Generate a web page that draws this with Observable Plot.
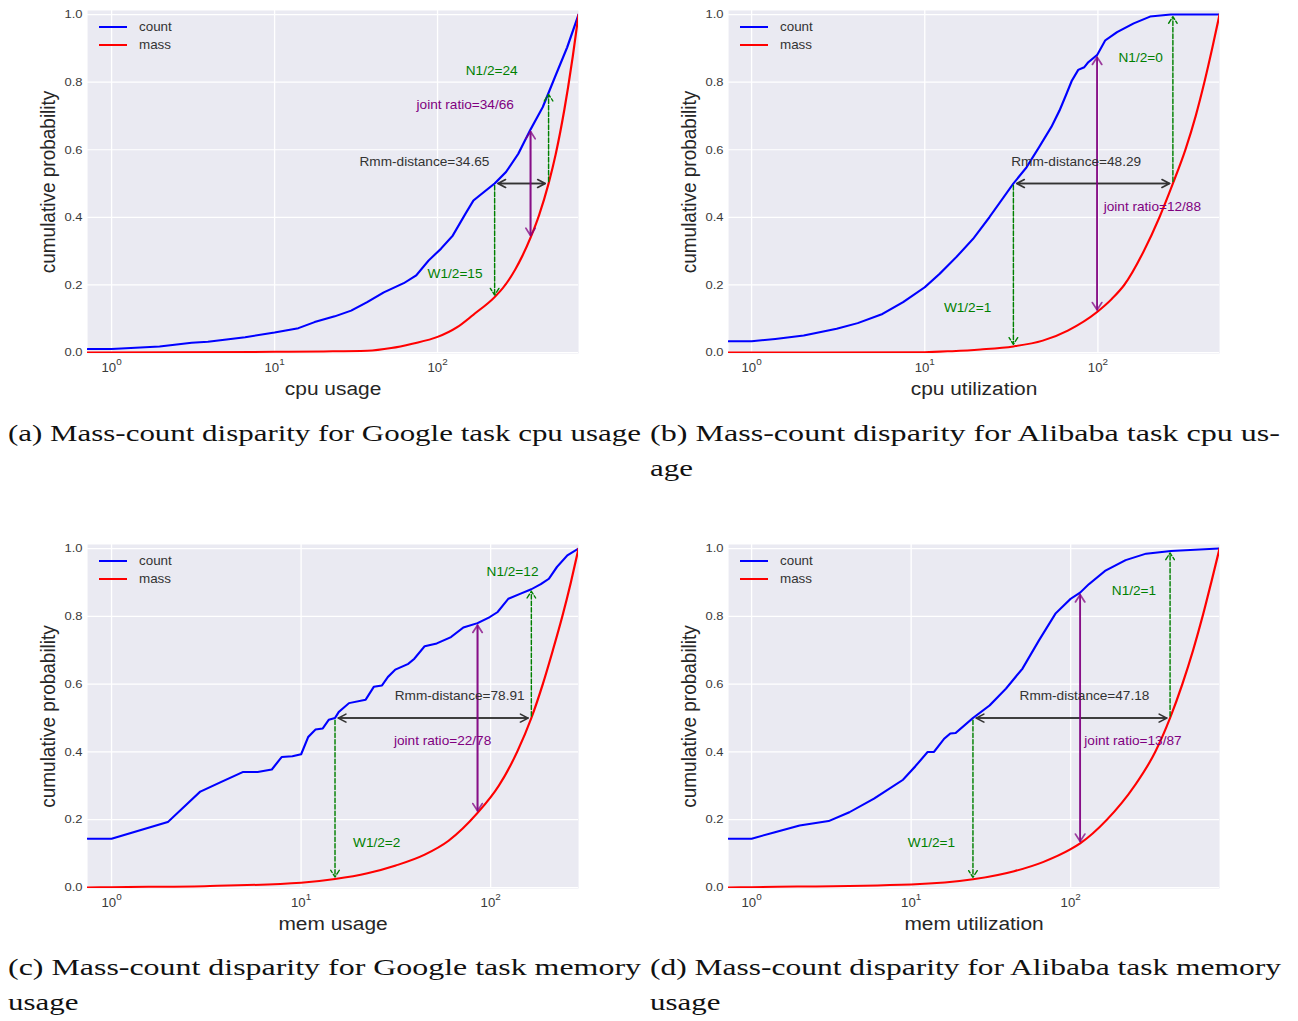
<!DOCTYPE html>
<html>
<head>
<meta charset="utf-8">
<script src="https://cdn.jsdelivr.net/npm/d3@7"></script>
<script src="https://cdn.jsdelivr.net/npm/@observablehq/plot@0.6"></script>
<style>
  html, body { margin: 0; padding: 0; background: #fff; }
  #page { position: relative; width: 1298px; height: 1021px; overflow: hidden; background: #fff; }
</style>
</head>
<body>
<div id="page"></div>
<script>
// ---------------------------------------------------------------------------
// Cumulative distributions (count CDF and mass CDF) for the four workloads
// ---------------------------------------------------------------------------
const googleCpuCountX = [0.712, 1, 1.97, 3.1, 3.9, 6.6, 10, 14, 17.6, 23.4, 29.5, 37, 46.8, 62, 74, 88, 105, 124, 148, 166, 186, 224, 263, 313, 372, 442, 525, 624, 733];
const googleCpuCountP = [0.01, 0.01, 0.018, 0.029, 0.032, 0.045, 0.059, 0.072, 0.09, 0.107, 0.124, 0.149, 0.178, 0.205, 0.228, 0.272, 0.307, 0.346, 0.41, 0.45, 0.469, 0.5, 0.534, 0.588, 0.66, 0.726, 0.815, 0.903, 1.0];
const googleCpuMassX = [0.712, 10, 20, 37, 52, 70, 100, 132, 166, 224, 251, 300, 330, 372, 420, 480, 531, 600, 631, 676, 733];
const googleCpuMassP = [0, 0.002, 0.003, 0.005, 0.013, 0.026, 0.046, 0.075, 0.112, 0.164, 0.19, 0.246, 0.284, 0.34, 0.407, 0.5, 0.587, 0.719, 0.782, 0.877, 1.0];

const alibabaCpuCountX = [0.736, 1, 1.37, 2.0, 3.1, 4.1, 5.7, 7.5, 10, 12.2, 15.2, 19, 23.6, 28.6, 32.5, 38.7, 45.7, 53.8, 60, 65.2, 70.8, 76.9, 83.4, 88, 98.9, 110, 129, 161, 200, 264, 504];
const alibabaCpuCountP = [0.033, 0.033, 0.04, 0.05, 0.07, 0.087, 0.114, 0.149, 0.193, 0.233, 0.282, 0.336, 0.40, 0.46, 0.50, 0.548, 0.607, 0.667, 0.716, 0.76, 0.805, 0.836, 0.844, 0.859, 0.88, 0.923, 0.948, 0.974, 0.994, 1.0, 1.0];
const alibabaCpuMassX = [0.736, 10, 14.4, 21, 32.5, 48, 67, 98.9, 120, 142, 184, 226.5, 271, 320, 367, 412, 457, 504];
const alibabaCpuMassP = [0, 0.001, 0.004, 0.009, 0.018, 0.035, 0.065, 0.12, 0.158, 0.2, 0.3, 0.4, 0.5, 0.6, 0.7, 0.8, 0.9, 1.0];

const googleMemCountX = [0.747, 1, 1.98, 2.94, 3.77, 4.95, 5.9, 7.0, 7.9, 9.0, 10, 10.9, 11.9, 13, 14, 15.1, 15.8, 17.9, 21.9, 24.2, 26.7, 28.7, 31.4, 36.8, 39.6, 44.9, 52, 61.8, 71.8, 85.3, 99, 109, 124, 144, 164, 184, 203, 224, 254, 291];
const googleMemCountP = [0.144, 0.144, 0.193, 0.283, 0.311, 0.341, 0.341, 0.348, 0.385, 0.387, 0.393, 0.444, 0.466, 0.469, 0.495, 0.5, 0.518, 0.544, 0.554, 0.592, 0.596, 0.621, 0.643, 0.66, 0.675, 0.712, 0.72, 0.739, 0.767, 0.78, 0.798, 0.813, 0.852, 0.867, 0.88, 0.895, 0.911, 0.946, 0.98, 1.0];
const googleMemMassX = [0.747, 1, 3.1, 10, 15.1, 22.4, 31.6, 44.9, 60, 85.3, 110.4, 138, 164, 188.5, 213, 239, 265, 291];
const googleMemMassP = [0, 0.001, 0.004, 0.014, 0.025, 0.042, 0.065, 0.097, 0.138, 0.22, 0.3, 0.4, 0.5, 0.6, 0.7, 0.8, 0.9, 1.0];

const alibabaMemCountX = [0.717, 1, 1.4, 2.0, 3.04, 4.1, 5.85, 8.9, 10.6, 12.7, 13.9, 16.1, 17.6, 19, 24.4, 31, 39.3, 49.9, 63.2, 80.2, 100, 114.6, 130, 164, 221, 297, 425, 857];
const alibabaMemCountP = [0.144, 0.144, 0.163, 0.183, 0.196, 0.222, 0.262, 0.318, 0.357, 0.40, 0.40, 0.439, 0.454, 0.456, 0.5, 0.537, 0.587, 0.646, 0.729, 0.808, 0.852, 0.87, 0.895, 0.934, 0.966, 0.985, 0.993, 1.0];
const alibabaMemMassX = [0.717, 1, 10, 24.4, 44.2, 67, 100, 114.6, 168.8, 251.5, 338.8, 419.6, 501, 585, 671, 760, 857];
const alibabaMemMassP = [0, 0.001, 0.009, 0.024, 0.048, 0.075, 0.113, 0.13, 0.2, 0.3, 0.4, 0.5, 0.6, 0.7, 0.8, 0.9, 1.0];

// Panel order: (a) Google cpu, (b) Alibaba cpu, (c) Google mem, (d) Alibaba mem
const countXs = [googleCpuCountX, alibabaCpuCountX, googleMemCountX, alibabaMemCountX];
const countPs = [googleCpuCountP, alibabaCpuCountP, googleMemCountP, alibabaMemCountP];
const massXs = [googleCpuMassX, alibabaCpuMassX, googleMemMassX, alibabaMemMassX];
const massPs = [googleCpuMassP, alibabaCpuMassP, googleMemMassP, alibabaMemMassP];

const seriesNames = ["count", "mass"];
const xAxisLabels = ["cpu usage", "cpu utilization", "mem usage", "mem utilization"];
const yAxisLabel = "cumulative probability";
const xExtents = [[0.712, 733], [0.736, 504], [0.747, 291], [0.717, 857]];
const xTicks = [1, 10, 100];
const yTicks = [0, 0.2, 0.4, 0.6, 0.8, 1.0];

// Disparity metrics: W1/2 (count median), N1/2 (mass median), joint ratio point
const halfCountX = [224, 32.5, 15.1, 24.4];
const massAtHalfCount = [0.164, 0.018, 0.025, 0.024];
const halfMassX = [480, 271, 164, 419.6];
const countAtHalfMass = [0.77, 1.0, 0.88, 0.993];
const jointX = [372, 98.9, 85.3, 114.6];
const jointCount = [0.66, 0.88, 0.78, 0.87];
const jointMass = [0.34, 0.12, 0.22, 0.13];

const wLabels = ["W1/2=15", "W1/2=1", "W1/2=2", "W1/2=1"];
const nLabels = ["N1/2=24", "N1/2=0", "N1/2=12", "N1/2=1"];
const rmmLabels = ["Rmm-distance=34.65", "Rmm-distance=48.29", "Rmm-distance=78.91", "Rmm-distance=47.18"];
const jointLabels = ["joint ratio=34/66", "joint ratio=12/88", "joint ratio=22/78", "joint ratio=13/87"];

const captions = [
  ["(a) Mass-count disparity for Google task cpu usage"],
  ["(b) Mass-count disparity for Alibaba task cpu us-", "age"],
  ["(c) Mass-count disparity for Google task memory", "usage"],
  ["(d) Mass-count disparity for Alibaba task memory", "usage"]
];

// ---------------------------------------------------------------------------
// Layout
// ---------------------------------------------------------------------------
// where each annotation text starts (data x of left edge, data y of baseline)
const notePlacement = {
  n:     [[149, 0.82],  [131.5, 0.861], [95.2, 0.919], [181, 0.862]],
  joint: [[74.3, 0.722], [108, 0.418],  [30.9, 0.419], [121.7, 0.419]],
  rmm:   [[33.2, 0.553], [31.6, 0.551], [31.2, 0.552], [47.8, 0.552]],
  w:     [[86.9, 0.219], [12.9, 0.119], [18.8, 0.119], [9.53, 0.119]]
};

const FONT = "'Liberation Sans', Arial, Helvetica, sans-serif";
const S = 1.1;               // the panels are drawn slightly widened
const PANEL_W = 645, PANEL_H = 405;
const panelBoxes = [
  {left: 0,   top: 0,   plotLeft: 87, plotRight: 578, plotBottom: 353},
  {left: 649, top: 0,   plotLeft: 79, plotRight: 570, plotBottom: 353},
  {left: 0,   top: 534, plotLeft: 87, plotRight: 578, plotBottom: 354},
  {left: 649, top: 534, plotLeft: 79, plotRight: 570, plotBottom: 354}
];
const seriesColors = ["#0000ff", "#ff0000"];
const page = document.getElementById("page");

// Dashed shaft, solid head for the W1/2 and N1/2 arrows
function dashShafts(svg) {
  d3.select(svg).selectAll('g[aria-label="half arrow"] path, g[stroke="green"] path').each(function () {
    const d = this.getAttribute("d");
    if (!d) return;
    const shaft = d.split("M").filter(Boolean)[0];
    const nums = (shaft.match(/-?\d*\.?\d+(?:e[-+]?\d+)?/gi) || []).map(Number);
    const n = nums.length;
    if (n < 4) return;
    const L = Math.hypot(nums[n - 2] - nums[0], nums[n - 1] - nums[1]);
    const dash = 4.5, gap = 2, arr = [];
    let acc = 0;
    while (acc + dash + gap <= L) { arr.push(dash, gap); acc += dash + gap; }
    const rem = L - acc;
    if (rem > dash) arr.push(dash, rem - dash); else arr.push(rem, 0);
    arr.push(200, 0);
    this.setAttribute("stroke-dasharray", arr.map(v => v.toFixed(2)).join(" "));
    this.style.strokeDasharray = arr.map(v => v.toFixed(2) + "px").join(" ");
  });
}

function drawPanel(i) {
  const box = panelBoxes[i];
  const W = PANEL_W / S;
  const mL = box.plotLeft / S;
  const mR = (PANEL_W - box.plotRight) / S;
  const mT = 10;
  const mB = PANEL_H - box.plotBottom;

  const count = countXs[i].map((x, j) => ({x, p: countPs[i][j]}));
  const mass = massXs[i].map((x, j) => ({x, p: massPs[i][j]}));

  const halfArrows = [
    {x1: halfCountX[i], y1: 0.5, x2: halfCountX[i], y2: massAtHalfCount[i]},
    {x1: halfMassX[i], y1: 0.5, x2: halfMassX[i], y2: countAtHalfMass[i]}
  ];
  const rmm = [{a: halfCountX[i], b: halfMassX[i]}];
  const joint = [{x: jointX[i], c: jointCount[i], m: jointMass[i]}];

  const note = (key, text) => [{x: notePlacement[key][i][0], y: notePlacement[key][i][1], text}];
  const noteStyle = {x: "x", y: "y", text: "text", textAnchor: "start", lineAnchor: "bottom", fontSize: 12.4};

  const svg = Plot.plot({
    width: W,
    height: PANEL_H,
    marginLeft: mL, marginRight: mR, marginTop: mT, marginBottom: mB,
    style: {background: "transparent", fontFamily: FONT, overflow: "visible"},
    x: {type: "log", domain: xExtents[i]},
    y: {domain: [-0.003, 1.012]},
    marks: [
      Plot.frame({fill: "#eaeaf2", stroke: "none"}),
      Plot.gridX(xTicks, {stroke: "#ffffff", strokeOpacity: 1, strokeWidth: 1.2}),
      Plot.gridY(yTicks, {stroke: "#ffffff", strokeOpacity: 1, strokeWidth: 1.2}),
      Plot.axisX(xTicks, {tickSize: 0, tickPadding: 10, fontSize: 12, color: "#3a3a3a",
        tickFormat: d => String(Math.round(Math.log10(d))), label: null}),
      Plot.axisY(yTicks, {tickSize: 0, tickPadding: 5 / S, fontSize: 11.8, color: "#3a3a3a",
        tickFormat: d3.format(".1f"), label: null}),
      Plot.text([xAxisLabels[i]], {frameAnchor: "bottom", textAnchor: "middle", dy: 41, lineAnchor: "bottom", fontSize: 19, fill: "#262626"}),
      Plot.text([yAxisLabel], {frameAnchor: "left", textAnchor: "middle", lineAnchor: "middle", rotate: -90, dx: -39 / S, fontSize: 19, fill: "#262626"}),
      Plot.line(count, {x: "x", y: "p", stroke: seriesColors[0], strokeWidth: 2, clip: true}),
      Plot.line(mass, {x: "x", y: "p", stroke: seriesColors[1], strokeWidth: 2, curve: "monotone-x", clip: true}),
      // W1/2 and N1/2
      Plot.arrow(halfArrows, {x1: "x1", y1: "y1", x2: "x2", y2: "y2", stroke: "green",
        strokeWidth: 1.3, headLength: 9, inset: 2, ariaLabel: "half arrow"}),
      // Rmm distance (double headed)
      Plot.arrow(rmm, {x1: "a", x2: "b", y1: () => 0.5, y2: () => 0.5, stroke: "#333333", strokeWidth: 1.5, headLength: 8, inset: 3}),
      Plot.arrow(rmm, {x1: "b", x2: "a", y1: () => 0.5, y2: () => 0.5, stroke: "#333333", strokeWidth: 1.5, headLength: 8, inset: 3}),
      // joint ratio (double headed)
      Plot.arrow(joint, {x1: "x", x2: "x", y1: "m", y2: "c", stroke: "purple", strokeOpacity: 0.75, strokeWidth: 1.6, headLength: 8, inset: 2}),
      Plot.arrow(joint, {x1: "x", x2: "x", y1: "c", y2: "m", stroke: "purple", strokeOpacity: 0.75, strokeWidth: 1.6, headLength: 8, inset: 2}),
      Plot.text(note("n", nLabels[i]), {...noteStyle, fill: "green"}),
      Plot.text(note("w", wLabels[i]), {...noteStyle, fill: "green"}),
      Plot.text(note("joint", jointLabels[i]), {...noteStyle, fill: "purple"}),
      Plot.text(note("rmm", rmmLabels[i]), {...noteStyle, fill: "#333333"})
    ]
  });

  dashShafts(svg);

  // powers of ten on the log axis
  d3.select(svg).selectAll('g[aria-label="x-axis tick label"] text').each(function () {
    const e = this.textContent;
    const t = d3.select(this);
    t.text(null);
    t.append("tspan").text("10");
    t.append("tspan").attr("dy", "-7").attr("font-size", "9").text(e);
  });

  // legend in the upper-left corner of the plot frame
  const lg = d3.select(svg).append("g").attr("font-family", FONT).attr("font-size", 12.2);
  seriesNames.forEach((name, k) => {
    const y = mT + 17 + k * 18;
    lg.append("line")
      .attr("x1", mL + 12 / S).attr("x2", mL + 40 / S)
      .attr("y1", y).attr("y2", y)
      .attr("stroke", seriesColors[k]).attr("stroke-width", 2);
    lg.append("text")
      .attr("x", mL + 52 / S).attr("y", y).attr("dy", "0.34em")
      .attr("text-anchor", "start").attr("fill", "#333333")
      .text(name);
  });

  svg.setAttribute("width", PANEL_W);
  svg.setAttribute("height", PANEL_H);
  svg.setAttribute("preserveAspectRatio", "none");
  Object.assign(svg.style, {
    position: "absolute", left: box.left + "px", top: box.top + "px",
    width: PANEL_W + "px", height: PANEL_H + "px", maxWidth: "none"
  });
  page.appendChild(svg);
}

for (let i = 0; i < 4; i++) drawPanel(i);

// ---------------------------------------------------------------------------
// Sub-figure captions
// ---------------------------------------------------------------------------
const captionBoxes = [
  {x: 8,   baseline: 440.5, width: 633},
  {x: 650, baseline: 440.5, width: 630},
  {x: 8,   baseline: 975,   width: 633},
  {x: 650, baseline: 975,   width: 631}
];
const CAPTION_FONT = "'Liberation Serif', 'Times New Roman', serif";
const CAPTION_SIZE = 23;
const CAPTION_LEAD = 35;

const capSvg = d3.select(page).append("svg")
  .attr("width", 1298).attr("height", 1021)
  .style("position", "absolute").style("left", "0px").style("top", "0px")
  .style("pointer-events", "none");

const capTexts = captions.map((lines, i) => lines.map((line, k) =>
  capSvg.append("text")
    .attr("x", captionBoxes[i].x)
    .attr("y", captionBoxes[i].baseline + k * CAPTION_LEAD)
    .attr("font-family", CAPTION_FONT)
    .attr("font-size", CAPTION_SIZE)
    .attr("fill", "#111")
    .text(line)
));
// widen the serif face to the caption block width
const widen = captionBoxes[0].width / capTexts[0][0].node().getComputedTextLength();
capTexts.forEach((lines, i) => lines.forEach((t, k) => {
  const natural = t.node().getComputedTextLength();
  const target = k === 0 ? captionBoxes[i].width : natural * widen;
  t.attr("textLength", target).attr("lengthAdjust", "spacingAndGlyphs");
}));
</script>
</body>
</html>
